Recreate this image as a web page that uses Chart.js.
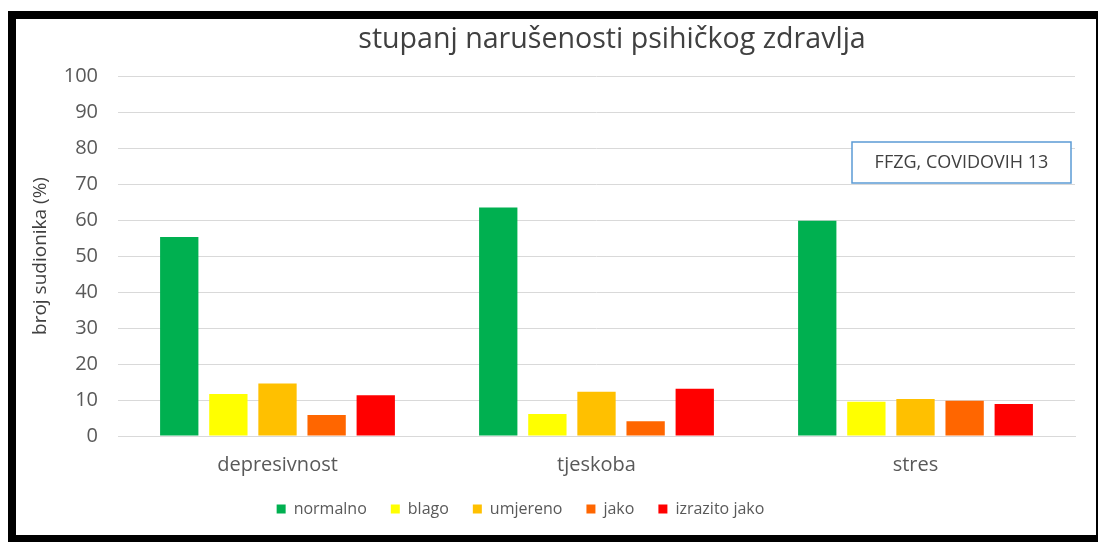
<!DOCTYPE html>
<html lang="hr">
<head>
    <meta charset="UTF-8">
    <title>stupanj narušenosti psihičkog zdravlja</title>
    <script src="https://cdn.jsdelivr.net/npm/chart.js"></script>
    <style>
        * { margin: 0; padding: 0; }
        body { background: #fff; width: 1098px; height: 542px; position: relative; overflow: hidden; }
        #frame {
            position: absolute; left: 8px; top: 11px; width: 1090px; height: 531px;
            background: #000;
        }
        #chartContainer {
            position: absolute; left: 16px; top: 19px; width: 1080px; height: 516px;
            background: #fff;
        }
    </style>
</head>
<body>
    <div id="frame"></div>
    <div id="chartContainer">
        <canvas id="stresChart"></canvas>
    </div>

    <script>
        const categories = ['depresivnost', 'tjeskoba', 'stres'];
        const seriesNames = ['normalno', 'blago', 'umjereno', 'jako', 'izrazito jako'];
        const normalno = [55.3, 63.5, 59.8];
        const blago = [11.7, 6.1, 9.5];
        const umjereno = [14.6, 12.3, 10.3];
        const jako = [5.8, 4.1, 9.8];
        const izrazitoJako = [11.3, 13.1, 8.9];
        const colors = ['#00b050', '#ffff00', '#ffc000', '#ff6600', '#ff0000'];

        const chartTitle = 'stupanj narušenosti psihičkog zdravlja';
        const noteText = 'FFZG, COVIDOVIH 13';
        const fontFam = "'Open Sans', sans-serif";

        const allSeries = [normalno, blago, umjereno, jako, izrazitoJako];

        // title and the little note box are drawn by hand
        const extras = {
            id: 'extras',
            afterLayout(chart) {
                // legend sits a bit left of centre in the original
                chart.legend.left -= 25;
                chart.legend.right -= 25;
            },
            afterDraw(chart) {
                const ctx = chart.ctx;
                ctx.save();
                ctx.fillStyle = '#404040';
                ctx.font = '28.6px ' + fontFam;
                ctx.textAlign = 'center';
                ctx.textBaseline = 'middle';
                ctx.fillText(chartTitle, 596, 21);

                ctx.strokeStyle = '#5b9bd5';
                ctx.lineWidth = 1.5;
                ctx.fillStyle = '#fff';
                ctx.fillRect(836, 123, 219, 41);
                ctx.strokeRect(836, 123, 219, 41);
                ctx.fillStyle = '#404040';
                ctx.font = '18px ' + fontFam;
                ctx.fillText(noteText, 945.5, 144);
                ctx.restore();
            }
        };

        const ctx = document.getElementById('stresChart').getContext('2d');
        new Chart(ctx, {
            type: 'bar',
            data: {
                labels: categories,
                datasets: seriesNames.map((name, i) => ({
                    label: name,
                    data: allSeries[i],
                    backgroundColor: colors[i],
                    borderWidth: 0,
                    categoryPercentage: 0.77,
                    barPercentage: 0.78
                }))
            },
            options: {
                responsive: true,
                maintainAspectRatio: false,
                animation: false,
                layout: { padding: { top: 57, right: 21, bottom: 8, left: 0 } },
                plugins: {
                    title: { display: false },
                    tooltip: { enabled: false },
                    legend: {
                        position: 'bottom',
                        labels: {
                            boxWidth: 9,
                            boxHeight: 9,
                            padding: 24,
                            color: '#595959',
                            font: { family: fontFam, size: 16 }
                        }
                    }
                },
                scales: {
                    x: {
                        afterFit(scale) { scale.height = 41; },
                        grid: { display: false },
                        border: { color: '#d9d9d9' },
                        ticks: { color: '#595959', font: { family: fontFam, size: 20 }, padding: 9 }
                    },
                    y: {
                        min: 0,
                        max: 100,
                        afterFit(scale) { scale.width = 102; },
                        grid: { color: '#d9d9d9', drawTicks: false },
                        border: { display: false },
                        ticks: {
                            stepSize: 10,
                            color: '#595959',
                            padding: 20,
                            font: { family: fontFam, size: 20 }
                        },
                        title: {
                            display: true,
                            text: 'broj sudionika (%)',
                            color: '#404040',
                            font: { family: fontFam, size: 19 },
                            padding: { top: 13, bottom: 0 }
                        }
                    }
                }
            },
            plugins: [extras]
        });
    </script>
</body>
</html>
